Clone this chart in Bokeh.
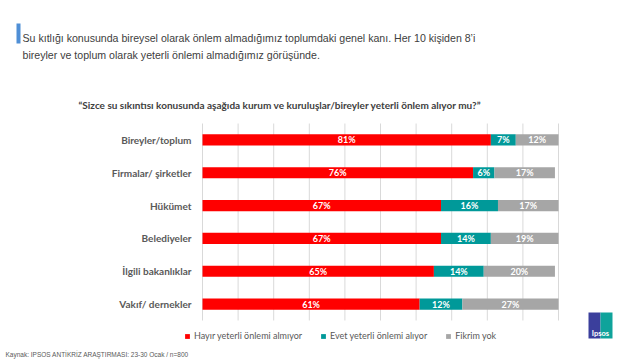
from bokeh.plotting import figure
from bokeh.models import Label, BoxAnnotation, ColumnDataSource, Range1d
from bokeh.embed import file_html
from bokeh.resources import INLINE
from bokeh.core.properties import value

# ---------------- data ----------------
categories = ["Bireyler/toplum", "Firmalar/ şirketler", "Hükümet",
              "Belediyeler", "İlgili bakanlıklar", "Vakıf/ dernekler"]
hayir = [81, 76, 67, 67, 65, 61]
evet = [7, 6, 16, 14, 14, 12]
fikrim = [12, 17, 17, 19, 20, 27]
series_keys = ["hayir", "evet", "fikrim"]
series_names = ["Hayır yeterli önlemi almıyor", "Evet yeterli önlemi alıyor", "Fikrim yok"]
colors = ["#FF0000", "#009999", "#A6A6A6"]
grid_ticks = [0, 10, 20, 30, 40, 50, 60, 70, 80, 90, 100]

title_lines = ["Su kıtlığı  konusunda bireysel olarak önlem almadığımız  toplumdaki genel kanı. Her 10 kişiden 8’i",
               "bireyler ve toplum olarak yeterli önlemi almadığımız  görüşünde."]
question = "“Sizce su sıkıntısı konusunda aşağıda kurum ve kuruluşlar/bireyler  yeterli önlem alıyor mu?”"
source_text = "Kaynak: IPSOS ANTİKRİZ ARAŞTIRMASI:  23-30 Ocak / n=800"
logo_text = "Ipsos"

# ---------------- layout constants (pixels) ----------------
W, H = 640, 360
PX0, PX100 = 202, 558          # pixel x of 0% and 100%
PY_TOP, PY_BOT = 123, 320      # pixel y of plot area top / bottom
n = len(categories)
sx = (PX100 - PX0) / 100.0
step = (PY_BOT - PY_TOP) / n
x_start = -PX0 / sx
x_end = 100 + (W - PX100) / sx
# category position: top category = n-1, bottom = 0 ; edges at -0.5 .. n-0.5
y_start = -0.5 - (H - PY_BOT) / step
y_end = n - 0.5 + PY_TOP / step

p = figure(width=W, height=H, output_backend="svg", toolbar_location=None,
           x_range=Range1d(x_start, x_end), y_range=Range1d(y_start, y_end),
           x_axis_location=None, y_axis_location=None,
           min_border=0, min_border_left=0, min_border_right=0,
           min_border_top=0, min_border_bottom=0)
p.outline_line_color = None
p.xgrid.visible = False
p.ygrid.visible = False
p.background_fill_color = "white"
p.border_fill_color = "white"

pos = [n - 1 - i for i in range(n)]

# grid lines
p.segment(x0=grid_ticks, y0=[-0.5] * len(grid_ticks), x1=grid_ticks, y1=[n - 0.5] * len(grid_ticks),
          line_color="#D9D9D9", line_width=1)

src = ColumnDataSource(dict(y=pos, hayir=hayir, evet=evet, fikrim=fikrim))
p.hbar_stack(series_keys, y="y", height=0.34, color=colors, line_color=None,
             source=src, legend_label=series_names)

# value labels at segment centres
left = [0] * n
for key, vals in zip(series_keys, [hayir, evet, fikrim]):
    mids = [l + v / 2 for l, v in zip(left, vals)]
    lbls = [f"{v}%" for v in vals]
    s = ColumnDataSource(dict(x=mids, y=pos, t=lbls))
    p.text(x="x", y="y", text="t", source=s, text_align="center", text_baseline="middle",
           text_color="white", text_font=value("Lato"), text_font_style="bold",
           text_font_size="9px")
    left = [l + v for l, v in zip(left, vals)]

# category labels
cs = ColumnDataSource(dict(x=[0] * n, y=pos, t=categories))
p.text(x="x", y="y", text="t", source=cs, x_offset=-11, text_align="right",
       text_baseline="middle", text_color="#595959", text_font=value("Lato"),
       text_font_style="bold", text_font_size="10px")

# legend
lg = p.legend[0]
lg.location = (184, 19)
lg.orientation = "horizontal"
lg.label_text_font = "Lato"
lg.label_text_font_size = "9px"
lg.label_text_color = "#595959"
lg.glyph_width = 6
lg.glyph_height = 6
lg.label_standoff = 4
lg.spacing = 18
lg.padding = 0
lg.margin = 0
lg.label_height = 10
lg.border_line_color = None
lg.background_fill_alpha = 0


def box(x0, x1, y0, y1, color):
    return BoxAnnotation(left=x0, right=x1, top=H - y0, bottom=H - y1,
                         left_units="screen", right_units="screen",
                         top_units="screen", bottom_units="screen",
                         fill_color=color, fill_alpha=1, line_color=None)


# header
p.add_layout(box(16, 20, 23, 43, "#4F8FD6"))
for i, t in enumerate(title_lines):
    p.add_layout(Label(x=22, y=H - (37 + 17 * i), x_units="screen", y_units="screen",
                       text=t, text_font="Liberation Sans", text_font_size="10.6px",
                       text_color="#404040", text_baseline="alphabetic"))
p.add_layout(Label(x=78, y=H - 104, x_units="screen", y_units="screen",
                   text=question, text_font="Lato", text_font_style="bold",
                   text_font_size="10px", text_color="#404040", text_baseline="middle"))

# source
p.add_layout(Label(x=5, y=H - 354, x_units="screen", y_units="screen",
                   text=source_text, text_font="Liberation Sans", text_font_size="6.5px",
                   text_color="#595959", text_baseline="middle"))

# logo
p.add_layout(box(588, 600, 312, 338, "#3B3F9C"))
p.add_layout(box(600, 612, 312, 338, "#0FA39B"))
p.add_layout(Label(x=600, y=H - 333, x_units="screen", y_units="screen",
                   text=logo_text, text_font="Lato", text_font_style="bold",
                   text_font_size="7.5px", text_color="white",
                   text_align="center", text_baseline="middle"))

open("out.html", "w").write(file_html(p, INLINE))
